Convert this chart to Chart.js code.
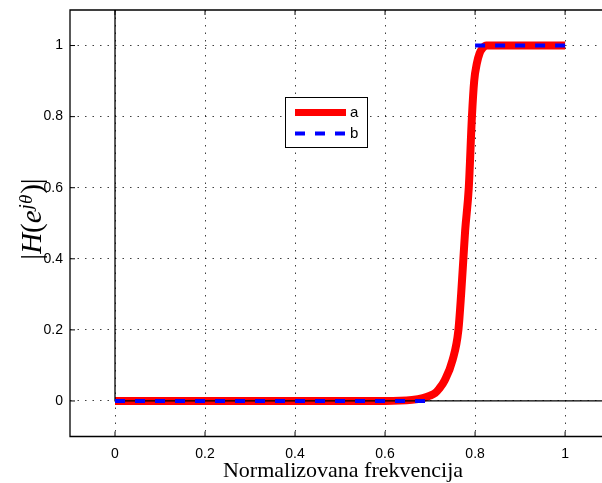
<!DOCTYPE html>
<html><head><meta charset="utf-8">
<script src="https://cdn.jsdelivr.net/npm/chart.js@4"></script>
<style>html,body{margin:0;padding:0;background:#fff;overflow:hidden}#wrap{width:602px;height:483px;position:relative}</style>
</head><body><div id="wrap"><canvas id="c" width="602" height="483"></canvas></div>
<script>
// Series a: smooth magnitude response (red)
const freqA = [0, 0.60, 0.66, 0.684, 0.70, 0.711, 0.72, 0.733, 0.750, 0.763, 0.769, 0.774, 0.778, 0.786, 0.793, 0.798, 0.804, 0.810, 0.817, 0.825, 1.0];
const magA  = [0, 0,    0.003, 0.008, 0.015, 0.022, 0.034, 0.059, 0.115, 0.20, 0.30, 0.40, 0.48, 0.60, 0.80, 0.90, 0.95, 0.978, 0.993, 1.0, 1.0];
// Series b: ideal response (blue dashed), gap in transition band
const freqB = [0, 0.70, 0.75, 0.80, 1.0];
const magB  = [0, 0, null, 1, 1];
// Black axis lines through the origin
const axisX = [0, 0, 1.082];
const axisY = [1.1, 0, 0];
const xTicks = [0, 0.2, 0.4, 0.6, 0.8, 1];
const yTicks = [0, 0.2, 0.4, 0.6, 0.8, 1];
const labelA = 'a', labelB = 'b';
const xTitle = 'Normalizovana frekvencija';
const yTitleParts = ['|', 'H', '(', 'e', 'jθ', ')', '|'];

const pts = (xs, ys) => xs.map((x, i) => ({x: x, y: ys[i]}));

const decor = {
  id: 'decor',
  afterDraw(chart) {
    const ctx = chart.ctx, a = chart.chartArea;
    const xs = chart.scales.x, ys = chart.scales.y;
    ctx.save();
    // frame: left, top, bottom
    ctx.strokeStyle = '#000'; ctx.lineWidth = 1.3; ctx.setLineDash([]);
    ctx.beginPath();
    ctx.moveTo(a.right + 2, a.top); ctx.lineTo(a.left, a.top); ctx.lineTo(a.left, a.bottom); ctx.lineTo(a.right + 2, a.bottom);
    ctx.stroke();
    // inward tick marks
    ctx.lineWidth = 1;
    ctx.beginPath();
    xTicks.forEach(v => {
      const px = xs.getPixelForValue(v);
      ctx.moveTo(px, a.bottom); ctx.lineTo(px, a.bottom - 5);
      ctx.moveTo(px, a.top); ctx.lineTo(px, a.top + 5);
    });
    yTicks.forEach(v => {
      const py = ys.getPixelForValue(v);
      ctx.moveTo(a.left, py); ctx.lineTo(a.left + 5, py);
    });
    ctx.stroke();
    // legend
    const dsA = chart.data.datasets.find(d => d.label === labelA);
    const dsB = chart.data.datasets.find(d => d.label === labelB);
    const bx = 285, by = 97, bw = 82, bh = 50;
    ctx.fillStyle = '#fff'; ctx.fillRect(bx, by, bw, bh);
    ctx.strokeStyle = '#000'; ctx.lineWidth = 1; ctx.strokeRect(bx + 0.5, by + 0.5, bw, bh);
    ctx.lineCap = 'butt';
    ctx.strokeStyle = dsA.borderColor; ctx.lineWidth = 7;
    ctx.beginPath(); ctx.moveTo(295, 112.5); ctx.lineTo(346, 112.5); ctx.stroke();
    ctx.strokeStyle = dsB.borderColor; ctx.lineWidth = 4; ctx.setLineDash([10, 10]);
    ctx.beginPath(); ctx.moveTo(295, 133.5); ctx.lineTo(346, 133.5); ctx.stroke();
    ctx.setLineDash([]);
    ctx.fillStyle = '#000'; ctx.font = '15px "Liberation Sans"';
    ctx.textAlign = 'left'; ctx.textBaseline = 'middle';
    ctx.fillText(dsA.label, 350, 113);
    ctx.fillText(dsB.label, 350, 134);
    // x title
    ctx.font = '22px "Liberation Serif"'; ctx.textAlign = 'center'; ctx.textBaseline = 'alphabetic';
    ctx.fillText(xTitle, 343, 477);
    // y title (rotated)
    const big = 29, small = 19;
    const fonts = [
      `${big}px "Liberation Serif"`, `italic ${big}px "Liberation Serif"`, `${big}px "Liberation Serif"`,
      `italic ${big}px "Liberation Serif"`, `italic ${small}px "Liberation Serif"`,
      `${big}px "Liberation Serif"`, `${big}px "Liberation Serif"`
    ];
    const dys = [0, 0, 0, 0, -9, 0, 0];
    const gaps = [0, 0, 0, 1, 1, 0, 0];
    let total = 0; const widths = [];
    yTitleParts.forEach((t, i) => { ctx.font = fonts[i]; const w = ctx.measureText(t).width + gaps[i]; widths.push(w); total += w; });
    ctx.translate(41, 219); ctx.rotate(-Math.PI / 2);
    ctx.textAlign = 'left';
    let cx = -total / 2;
    yTitleParts.forEach((t, i) => { ctx.font = fonts[i]; ctx.fillText(t, cx, dys[i]); cx += widths[i]; });
    ctx.restore();
  }
};

new Chart(document.getElementById('c'), {
  type: 'scatter',
  data: {
    datasets: [
      { label: labelB, data: pts(freqB, magB), showLine: true, borderColor: '#0000ff', borderWidth: 4,
        borderDash: [10, 10], pointRadius: 0, spanGaps: false, order: 0, borderCapStyle: 'butt' },
      { label: 'axes', data: pts(axisX, axisY), showLine: true, borderColor: '#000', borderWidth: 1.3,
        pointRadius: 0, order: 1 },
      { label: labelA, data: pts(freqA, magA), showLine: true, borderColor: '#ff0000', borderWidth: 8,
        pointRadius: 0, cubicInterpolationMode: 'monotone', order: 2, borderCapStyle: 'butt', borderJoinStyle: 'round' }
    ]
  },
  options: {
    responsive: false, animation: false,
    layout: { padding: { top: 10, right: 0, left: 0, bottom: 0 } },
    plugins: { legend: { display: false }, tooltip: { enabled: false } },
    scales: {
      x: {
        type: 'linear', min: -0.1, max: 1.082,
        afterBuildTicks: s => { s.ticks = xTicks.map(v => ({value: v})); },
        afterFit: s => { s.height = 46.5; s.paddingLeft = 0; s.paddingRight = 0; },
        grid: { color: 'rgba(0,0,0,0.75)', lineWidth: 1, drawTicks: false },
        border: { display: false, dash: [1.5, 6] },
        ticks: { padding: 9, color: '#000', font: { family: 'Liberation Sans', size: 14 }, maxRotation: 0,
                 callback: v => String(v) }
      },
      y: {
        type: 'linear', min: -0.1, max: 1.1,
        afterBuildTicks: s => { s.ticks = yTicks.map(v => ({value: v})); },
        afterFit: s => { s.width = 70; s.paddingTop = 0; s.paddingBottom = 0; },
        grid: { color: 'rgba(0,0,0,0.75)', lineWidth: 1, drawTicks: false },
        border: { display: false, dash: [1.5, 6] },
        ticks: { padding: 7, color: '#000', font: { family: 'Liberation Sans', size: 14 },
                 callback: v => String(v) }
      }
    }
  },
  plugins: [decor]
});
</script></body></html>
